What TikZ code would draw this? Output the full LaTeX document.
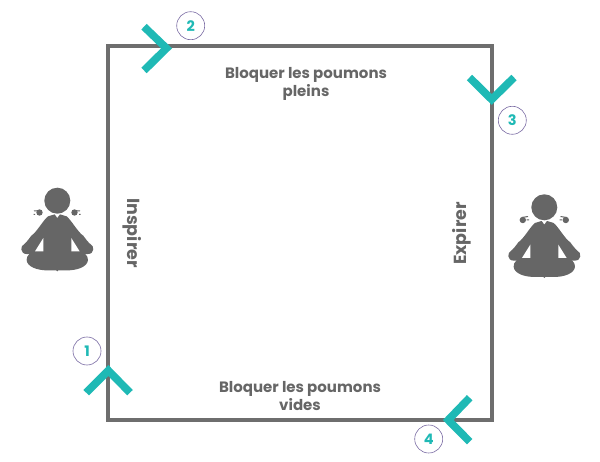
\documentclass[tikz,border=0pt]{standalone}
\usepackage{fontspec}
\setmainfont{Poppins}[BoldFont={Poppins Bold}]
\tikzset{
 x=1pt,y=-1pt,
 frameline/.style={draw=framegrey,line width=4pt,line join=miter},
 chevron/.style={draw=teal1,line width=7.7pt,line join=miter,miter limit=10},
 numcircle/.style={circle,draw=violet1,line width=0.6pt,minimum size=28pt,inner sep=0pt,text=teal1,font=\fontsize{14.5}{15}\selectfont\bfseries},
 label1/.style={text=textgrey,align=center,font=\fontsize{15}{18}\selectfont\bfseries,inner sep=0pt},
 label2/.style={text=textgrey,font=\fontsize{17.5}{18}\selectfont\bfseries,inner sep=0pt},
 pics/meditator/.style={code={
  \begin{scope}[x=0.3333pt,y=-0.3333pt]
   \fill[figgrey] (0,0) circle (39);
   \fill[figgrey] (-8,41) -- (0,52) -- (8,41) -- (28,47) .. controls (42,58) and (62,95) .. (78,105)
     .. controls (85,115) and (93,125) .. (99,130) .. controls (112,135) and (112,160) .. (92,160)
     -- (-92,160) .. controls (-112,160) and (-112,135) .. (-99,130)
     .. controls (-93,125) and (-85,115) .. (-78,105) .. controls (-62,95) and (-42,58) .. (-28,47) -- cycle;
   \fill[figgrey] (-60,150) .. controls (-80,152) and (-93,165) .. (-92,178) .. controls (-91,198) and (-60,210) .. (-25,209)
     -- (-3,209) -- (0,212) -- (3,209) -- (25,209) .. controls (60,210) and (91,198) .. (92,178) .. controls (93,165) and (80,152) .. (60,150) -- cycle;
   \fill[white] (-67,152) -- (-42,152) -- (-42,112) -- cycle;
   \fill[white] (67,152) -- (42,152) -- (42,112) -- cycle;
  \end{scope}}},
}
\definecolor{framegrey}{HTML}{6E6E6E}
\definecolor{figgrey}{HTML}{666666}
\definecolor{textgrey}{HTML}{666666}
\definecolor{teal1}{HTML}{1FB9B5}
\definecolor{violet1}{HTML}{7A6BA3}
\begin{document}
\begin{tikzpicture}
\useasboundingbox (0,0) rectangle (600,462);
\draw[frameline] (108,46) rectangle (492,420);
% figures
\pic at (57.3,200.7) {meditator};
\pic at (544.3,207.3) {meditator};
% breath, left figure
\fill[figgrey] (39.5,212.5) circle (3.2) (74.5,212.5) circle (3.2);
\draw[figgrey,line width=1pt] (34,211) -- (40,210.5) (33.5,214.5) -- (35,214.5) (80,211) -- (74,210.5) (80.5,214.5) -- (79,214.5);
% breath, right figure
\fill[figgrey] (522.8,220) circle (3.2) (565.8,220) circle (3.2);
\draw[figgrey,line width=1pt] (522,217.5) -- (528,216.5) (526.5,220) -- (529,220) (566.5,217.5) -- (560.5,216.5) (562,220) -- (559.5,220);
% chevrons
\draw[chevron] (86.2,392.7) -- (108.3,370.5) -- (130,392.7);
\draw[chevron] (144,26.7) -- (166.5,48.3) -- (144,70.5);
\draw[chevron] (469.5,77.5) -- (491.7,99.5) -- (514,77.5);
\draw[chevron] (469.7,397.7) -- (448.2,420) -- (469.7,441.7);
% numbers
\node[numcircle] (n1) at (87,351) {1};
\node[numcircle] (n2) at (190.7,25.7) {2};
\node[numcircle] (n3) at (512.3,120.3) {3};
\node[numcircle] (n4) at (428.7,439) {4};
% labels
\node[label1] (top) at (306,83.5) {Bloquer les poumons\\pleins};
\node[label1] (bottom) at (300,396) {Bloquer les poumons\\vides};
\node[label2,rotate=-90] (insp) at (132,233) {Inspirer};
\node[label2,rotate=90] (exp) at (462,233.5) {Expirer};
\end{tikzpicture}
\end{document}
